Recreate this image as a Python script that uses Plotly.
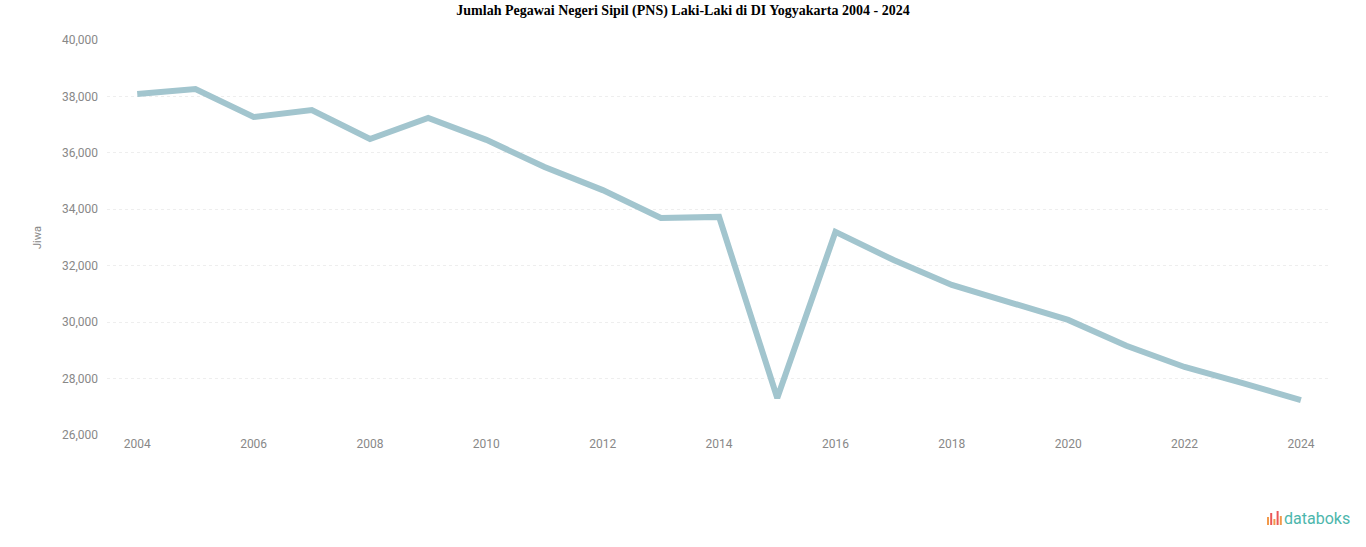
import plotly.graph_objects as go

years = list(range(2004, 2025))
values = [38090, 38260, 37270, 37520, 36490, 37240, 36460, 35500, 34680, 33690,
          33730, 27310, 33200, 32200, 31320, 30710, 30080, 29160, 28410, 27840, 27240]
x_ticks = list(range(2004, 2025, 2))
y_ticks = list(range(26000, 40001, 2000))

title = "Jumlah Pegawai Negeri Sipil (PNS) Laki-Laki di DI Yogyakarta 2004 - 2024"

fig = go.Figure()
fig.add_trace(go.Scatter(
    x=years, y=values, mode="lines",
    line=dict(color="#a2c5ce", width=6),
    hovertemplate="%{x}: %{y:,}<extra></extra>",
))

W, H = 1366, 547
L, R, T, B = 107, 36, 40, 112
fig.update_layout(
    width=W, height=H,
    paper_bgcolor="white", plot_bgcolor="white",
    margin=dict(l=L, r=R, t=T, b=B),
    title=dict(text="<b>" + title + "</b>", x=0.5, xanchor="center",
               y=1 - 10 / H, yanchor="middle",
               font=dict(family="Liberation Serif", size=14, color="black")),
    showlegend=False,
    xaxis=dict(range=[2003.48, 2024.5], tickvals=x_ticks, ticktext=[str(t) for t in x_ticks],
               showgrid=False, zeroline=False, showline=False, ticks="", automargin=False,
               tickfont=dict(family="Roboto", size=12, color="#888888")),
    yaxis=dict(range=[26000, 40000], tickvals=y_ticks, ticktext=[f"{v:,}" for v in y_ticks],
               showgrid=True, gridcolor="#eeeeee", griddash="dot", zeroline=False, showline=False,
               ticks="", ticklabelstandoff=8, automargin=False,
               title=dict(text="Jiwa", font=dict(family="Roboto", size=11, color="#888888"), standoff=18),
               tickfont=dict(family="Roboto", size=12, color="#888888")),
)

# databoks logo
pw, ph = W - L - R, H - T - B
bar_colors = ["#f2994a", "#eb5757", "#f2994a", "#eb5757", "#f2994a"]
bar_heights = [8, 12, 6, 14, 9]
x0 = 1267
for i, (c, h) in enumerate(zip(bar_colors, bar_heights)):
    fig.add_shape(type="rect", xref="paper", yref="paper",
                  x0=(x0 + i * 3.2 - L) / pw, x1=(x0 + i * 3.2 + 2 - L) / pw,
                  y0=(H - B - 525) / ph,
                  y1=(H - B - 525 + h) / ph,
                  fillcolor=c, line_width=0)
fig.add_annotation(text="databoks", xref="paper", yref="paper",
                   x=(1352 - L) / pw, y=(H - B - 518) / ph,
                   xanchor="right", yanchor="middle", showarrow=False,
                   font=dict(family="Roboto", size=16, color="#4db6ac"))

fig.write_html("out.html", config={"displayModeBar": False},
               post_script="document.body.style.margin='0';")
